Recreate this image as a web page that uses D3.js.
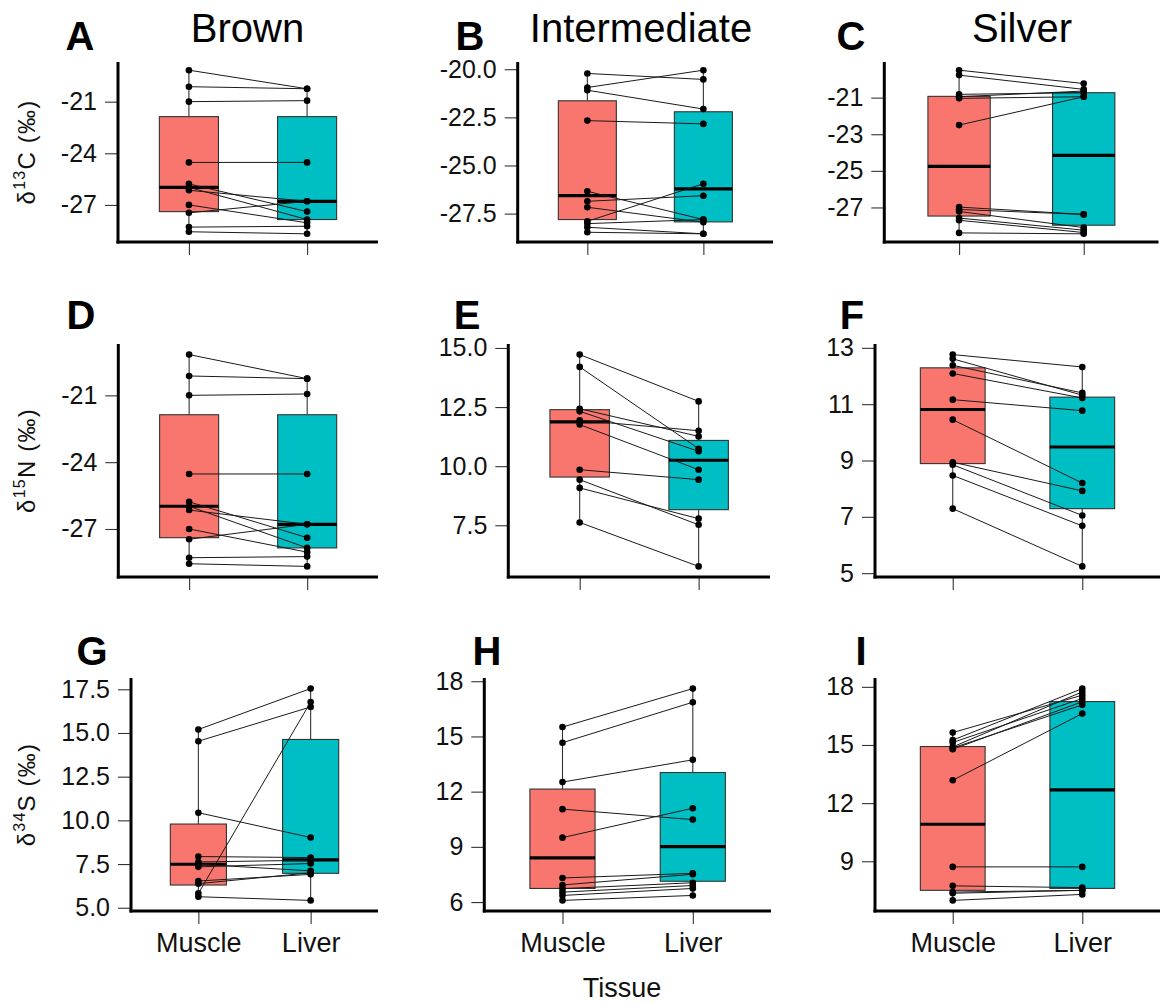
<!DOCTYPE html>
<html><head><meta charset="utf-8">
<script src="https://cdn.jsdelivr.net/npm/d3@7"></script>
<style>
body{margin:0;background:#fff}
text{font-family:"Liberation Sans",Arial,Helvetica,sans-serif}
</style>
</head><body>
<svg id="c" width="1163" height="1003"></svg>
<script>
// ---------------- data ----------------
const tissues = ["Muscle", "Liver"];
const groups = ["Brown", "Intermediate", "Silver"];
const panelLetters = ["A","B","C","D","E","F","G","H","I"];
const isotopeMass = ["13", "15", "34"];
const isotopeElement = ["C", "N", "S"];
const xTitle = "Tissue";

// A: d13C, Brown (paired muscle/liver values)
const A_muscle = [-19.17,-20.13,-21.00,-24.53,-25.78,-25.98,-26.15,-27.00,-27.46,-28.29,-28.56];
const A_liver  = [-20.25,-20.25,-20.94,-24.53,-27.39,-27.85,-26.79,-28.04,-26.79,-28.24,-28.68];
const A_box    = [[-27.39,-25.98,-21.87],[-27.85,-26.79,-21.87]]; // q1, median, q3
const A_ticks  = [-27,-24,-21];

// B: d13C, Intermediate
const B_muscle = [-20.22,-20.95,-21.09,-22.67,-26.34,-26.86,-27.17,-27.90,-28.02,-28.21,-28.47];
const B_liver  = [-20.53,-20.05,-22.07,-22.84,-27.81,-26.57,-27.95,-25.95,-27.81,-28.55,-28.55];
const B_box    = [[-27.81,-26.57,-21.64],[-27.93,-26.22,-22.21]];
const B_ticks  = [-27.5,-25.0,-22.5,-20.0];

// C: d13C, Silver
const C_muscle = [-19.50,-19.77,-20.82,-20.95,-21.04,-22.50,-26.98,-27.11,-27.22,-27.58,-27.70,-28.39];
const C_liver  = [-20.23,-20.55,-20.73,-20.64,-20.95,-20.95,-27.38,-27.38,-28.10,-28.24,-28.37,-28.44];
const C_box    = [[-27.47,-24.75,-20.93],[-27.97,-24.15,-20.73]];
const C_ticks  = [-27,-25,-23,-21];

// D: d15N, Brown (as printed in the figure)
const D_muscle = [-19.17,-20.13,-21.00,-24.53,-25.78,-25.98,-26.15,-27.00,-27.46,-28.29,-28.56];
const D_liver  = [-20.25,-20.25,-20.94,-24.53,-27.39,-27.85,-26.79,-28.04,-26.79,-28.24,-28.68];
const D_box    = [[-27.39,-25.98,-21.87],[-27.85,-26.79,-21.87]];
const D_ticks  = [-27,-24,-21];

// E: d15N, Intermediate
const E_muscle = [14.72,14.20,12.43,12.32,11.94,11.76,9.85,9.43,9.08,7.62];
const E_liver  = [12.74,10.74,11.26,10.63,11.50,9.85,9.43,7.52,7.78,5.76];
const E_box    = [[9.54,11.87,12.39],[8.16,10.25,11.09]];
const E_ticks  = [7.5,10.0,12.5,15.0];

// F: d15N, Silver
const F_muscle = [12.76,12.61,12.38,12.09,11.16,10.45,8.94,8.85,8.47,7.29];
const F_liver  = [12.32,11.32,11.40,11.22,10.77,8.20,7.92,7.05,6.68,5.24];
const F_box    = [[8.89,10.81,12.29],[7.29,9.48,11.25]];
const F_ticks  = [5,7,9,11,13];

// G: d34S, Brown
const G_muscle = [15.20,14.53,5.82,10.44,7.93,7.62,7.49,7.34,6.53,6.38,5.63];
const G_liver  = [17.54,16.49,16.77,9.02,7.87,7.72,7.11,7.53,6.91,7.00,5.42];
const G_box    = [[6.30,7.49,9.79],[6.97,7.74,14.63]];
const G_ticks  = [5.0,7.5,10.0,12.5,15.0,17.5];

// H: d34S, Intermediate
const H_muscle = [15.51,14.66,12.52,11.05,9.50,7.31,6.93,6.73,6.54,6.36,6.09];
const H_liver  = [17.60,16.86,13.73,10.48,11.10,7.56,7.51,7.05,6.90,6.74,6.36];
const H_box    = [[6.74,8.40,12.14],[7.13,9.01,13.04]];
const H_ticks  = [6,9,12,15,18];

// I: d34S, Silver
const I_muscle = [15.64,15.25,15.13,14.90,14.85,14.78,13.18,8.71,7.73,7.41,7.35,6.98];
const I_liver  = [17.57,17.91,17.40,17.74,17.07,17.23,16.62,8.71,7.64,7.50,7.50,7.29];
const I_box    = [[7.50,10.91,14.92],[7.60,12.68,17.24]];
const I_ticks  = [9,12,15,18];

const tickDecimals = [0,1,0, 0,1,0, 1,0,0];

// ---------------- layout ----------------
const fills = ["#F8766D", "#00BFC4"];
const panelLeft  = [[118,517.7,884.3],[118.3,508.3,875],[131,484.3,875]];
const panelRight = [[378,773,1158.5],[378,770,1160],[378,771,1160]];
const panelTop    = [62, 344, 678];
const panelBottom = [242, 577, 911];
const letterX = [[80,470,851],[81,467,852],[92,487,861]];
const letterY = [50, 329, 665];
const titleX = [247.5, 641, 1022];
const xTitleX = 622;

const panels = [
  [A_muscle,A_liver,A_box,A_ticks],[B_muscle,B_liver,B_box,B_ticks],[C_muscle,C_liver,C_box,C_ticks],
  [D_muscle,D_liver,D_box,D_ticks],[E_muscle,E_liver,E_box,E_ticks],[F_muscle,F_liver,F_box,F_ticks],
  [G_muscle,G_liver,G_box,G_ticks],[H_muscle,H_liver,H_box,H_ticks],[I_muscle,I_liver,I_box,I_ticks]
];

const svg = d3.select("#c");
svg.append("rect").attr("width",1163).attr("height",1003).attr("fill","#fff");

panels.forEach(([mus, liv, box, ticks], i) => {
  const r = Math.floor(i/3), c = i % 3;
  const L = panelLeft[r][c], R = panelRight[r][c], T = panelTop[r], B = panelBottom[r];
  const all = mus.concat(liv, box.flat());
  const [mn, mx] = d3.extent(all);
  const pad = (mx - mn) * 0.05;
  const y = d3.scaleLinear().domain([mn - pad, mx + pad]).range([B, T]);
  const x = d3.scalePoint().domain(tissues).range([L, R]).padding(0.6);
  const bw = x.step() * 0.5;
  const g = svg.append("g");

  // y axis ticks + labels
  const ya = g.append("g").attr("transform", `translate(${L},0)`)
    .call(d3.axisLeft(y).tickValues(ticks).tickSize(13).tickPadding(8)
      .tickFormat(d => d.toFixed(tickDecimals[i])));
  ya.select(".domain").remove();
  ya.selectAll(".tick line").attr("stroke", "#333").attr("stroke-width", 1.1);
  ya.selectAll(".tick text").attr("font-size", 25).attr("fill", "#111")
    .attr("font-family", '"Liberation Sans", Arial, sans-serif');

  // x axis ticks + labels
  const xa = g.append("g").attr("transform", `translate(0,${B})`)
    .call(d3.axisBottom(x).tickSize(13).tickPadding(9)
      .tickFormat(d => r === 2 ? d : ""));
  xa.select(".domain").remove();
  xa.selectAll(".tick line").attr("stroke", "#333").attr("stroke-width", 1.1);
  xa.selectAll(".tick text").attr("font-size", 27).attr("fill", "#111")
    .attr("font-family", '"Liberation Sans", Arial, sans-serif');

  // boxplots
  tissues.forEach((t, k) => {
    const vals = k === 0 ? mus : liv;
    const [q1, md, q3] = box[k];
    const [lo, hi] = d3.extent(vals);
    const cx = x(t);
    g.append("line").attr("x1", cx).attr("x2", cx).attr("y1", y(hi)).attr("y2", y(q3))
      .attr("stroke", "#333").attr("stroke-width", 1.1);
    g.append("line").attr("x1", cx).attr("x2", cx).attr("y1", y(q1)).attr("y2", y(lo))
      .attr("stroke", "#333").attr("stroke-width", 1.1);
    g.append("rect").attr("x", cx - bw/2).attr("width", bw)
      .attr("y", y(q3)).attr("height", y(q1) - y(q3))
      .attr("fill", fills[k]).attr("stroke", "#333").attr("stroke-width", 1.1);
    g.append("line").attr("x1", cx - bw/2).attr("x2", cx + bw/2).attr("y1", y(md)).attr("y2", y(md))
      .attr("stroke", "#000").attr("stroke-width", 3.2);
  });

  // paired lines
  g.selectAll(".pair").data(d3.range(mus.length)).join("line")
    .attr("x1", x(tissues[0])).attr("x2", x(tissues[1]))
    .attr("y1", j => y(mus[j])).attr("y2", j => y(liv[j]))
    .attr("stroke", "#1a1a1a").attr("stroke-width", 1);

  // points
  const pts = mus.map(v => [tissues[0], v]).concat(liv.map(v => [tissues[1], v]));
  g.selectAll(".pt").data(pts).join("circle")
    .attr("cx", d => x(d[0])).attr("cy", d => y(d[1])).attr("r", 3.3).attr("fill", "#000");

  // axis lines
  g.append("line").attr("x1", L).attr("x2", L).attr("y1", T).attr("y2", B + 1.5)
    .attr("stroke", "#000").attr("stroke-width", 3);
  g.append("line").attr("x1", L - 1.5).attr("x2", R).attr("y1", B).attr("y2", B)
    .attr("stroke", "#000").attr("stroke-width", 3);

  // panel letter
  svg.append("text").attr("x", letterX[r][c]).attr("y", letterY[r])
    .attr("text-anchor", "middle").attr("font-size", 40).attr("font-weight", "bold")
    .attr("fill", "#000").text(panelLetters[i]);
});

// x title under middle bottom panel
svg.append("text").attr("x", xTitleX).attr("y", 997).attr("text-anchor", "middle")
  .attr("font-size", 27).attr("fill", "#111").text(xTitle);

// column titles
groups.forEach((gname, c) => {
  svg.append("text").attr("x", titleX[c]).attr("y", 42).attr("text-anchor", "middle")
    .attr("font-size", 40).attr("fill", "#000").text(gname);
});

// y titles
isotopeMass.forEach((m, r) => {
  const cy = (panelTop[r] + panelBottom[r]) / 2;
  const t = svg.append("text").attr("transform", `translate(35,${cy}) rotate(-90)`)
    .attr("text-anchor", "middle").attr("font-size", 24).attr("letter-spacing", 1.2)
    .attr("fill", "#111");
  t.append("tspan").text("δ");
  t.append("tspan").attr("font-size", 16).attr("dy", -10).text(m);
  t.append("tspan").attr("dy", 10).text(isotopeElement[r] + " (‰)");
});
</script>
</body></html>
